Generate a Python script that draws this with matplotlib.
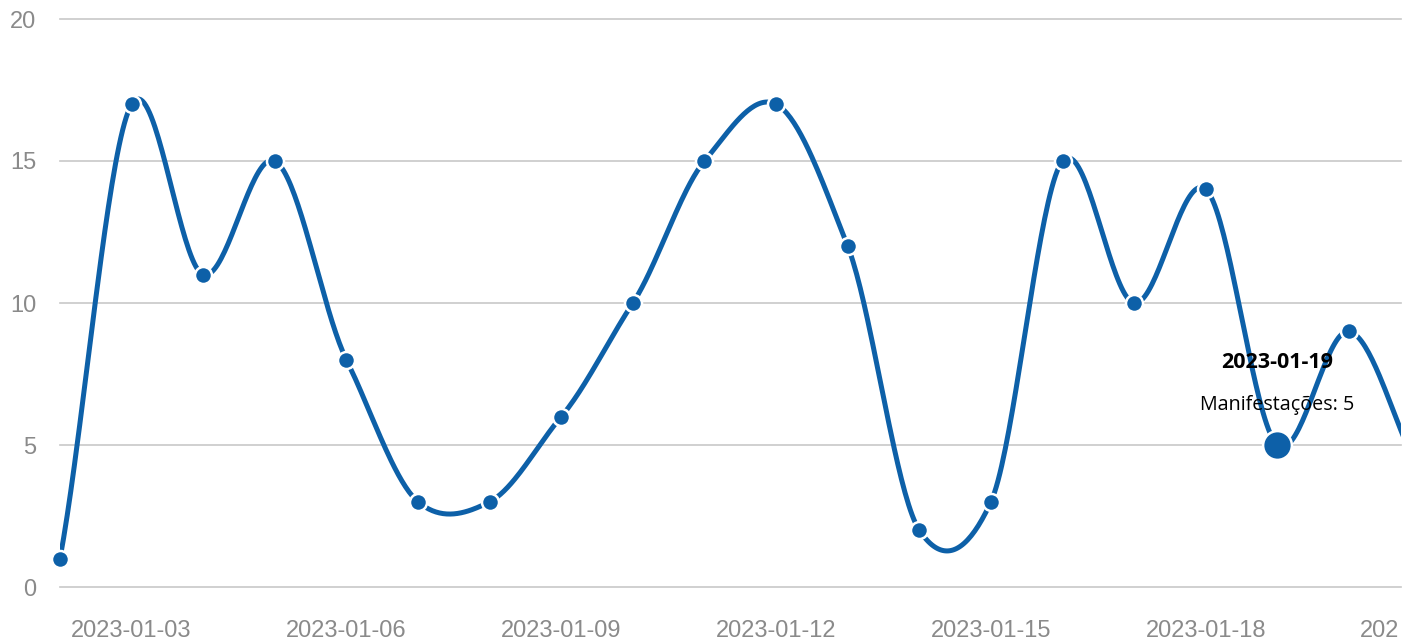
import numpy as np
import matplotlib.pyplot as plt
import matplotlib.dates as mdates
import matplotlib.transforms as mtransforms
import datetime as dt

# daily counts of "Manifestações"
dates = [dt.date(2023, 1, d) for d in range(2, 22)]
values = [1, 17, 11, 15, 8, 3, 3, 6, 10, 15, 17, 12, 2, 3, 15, 10, 14, 5, 9, 4]

tick_dates = [dt.date(2023, 1, d) for d in range(3, 22, 3)]
hover_date = dt.date(2023, 1, 19)
hover_label = "Manifestações"

line_color = "#0d60a8"
grid_color = "#c8c8c8"
tick_color = "#8a8a8a"


def cardinal(x, y, k=0.85, n=40):
    # smooth curve through the points (cardinal spline)
    x = np.asarray(x, float)
    y = np.asarray(y, float)
    m = np.zeros_like(y)
    m[1:-1] = (y[2:] - y[:-2]) / (x[2:] - x[:-2])
    m[0] = (y[1] - y[0]) / (x[1] - x[0])
    m[-1] = (y[-1] - y[-2]) / (x[-1] - x[-2])
    m = m * k
    xs, ys = [], []
    for i in range(len(x) - 1):
        h = x[i + 1] - x[i]
        t = np.linspace(0, 1, n, endpoint=False)
        h00 = 2 * t**3 - 3 * t**2 + 1
        h10 = t**3 - 2 * t**2 + t
        h01 = -2 * t**3 + 3 * t**2
        h11 = t**3 - t**2
        xs.append(x[i] + t * h)
        ys.append(h00 * y[i] + h10 * h * m[i] + h01 * y[i + 1] + h11 * h * m[i + 1])
    xs.append([x[-1]])
    ys.append([y[-1]])
    return np.concatenate(xs), np.concatenate(ys)


xnum = mdates.date2num(dates)
sx, sy = cardinal(xnum, values)

fig = plt.figure(figsize=(14.16, 6.42), dpi=100)
ax = fig.add_axes([60 / 1416, 55 / 642, (1401 - 60) / 1416, (587 - 19) / 642])

x_right = xnum[0] + (1401 - 60) / 71.61

ax.plot(sx, sy, color=line_color, linewidth=3.6, solid_capstyle="round", zorder=3)

vis = xnum <= x_right
vx = xnum[vis]
vy = np.array(values)[vis]
ax.scatter(vx, vy, s=150, color=line_color, edgecolor="white", linewidth=1.8,
           zorder=4, clip_on=False)

hx = mdates.date2num(hover_date)
hy = values[dates.index(hover_date)]
ax.scatter([hx], [hy], s=430, color=line_color, edgecolor="white", linewidth=1.8,
           zorder=5, clip_on=False)
ax.text(hx, 7.9, hover_date.strftime("%Y-%m-%d"), ha="center", va="center",
        fontsize=15.5, fontweight="bold", family="Open Sans", color="black", zorder=6)
ax.text(hx, 6.4, f"{hover_label}: {hy}", ha="center", va="center",
        fontsize=14.2, family="Open Sans", color="black", zorder=6)

ax.set_yticks([0, 5, 10, 15, 20])
ax.grid(axis="y", color=grid_color, linewidth=1.2)
ax.set_axisbelow(True)

# ticks inside the view get real tick labels, the last one falls past the
# right edge of the plot area and gets cut there like in the original
inside = [d for d in tick_dates if mdates.date2num(d) <= x_right]
outside = [d for d in tick_dates if mdates.date2num(d) > x_right]
ax.set_xticks(mdates.date2num(inside))
ax.set_xticklabels([d.strftime("%Y-%m-%d") for d in inside])
ax.set_xlim(xnum[0], x_right)
ax.set_ylim(0, 20)

cut_box = mtransforms.Bbox.from_extents(0, 0, 1399, 642)
trans = mtransforms.blended_transform_factory(ax.transData, ax.transAxes)
for d in outside:
    t = ax.text(mdates.date2num(d), 0, d.strftime("%Y-%m-%d"),
                transform=trans + mtransforms.ScaledTranslation(0, -24 / 72, fig.dpi_scale_trans),
                ha="center", va="top", fontsize=17, family="Liberation Sans",
                color=tick_color)
    t.set_clip_on(True)
    t.set_clip_box(cut_box)

for s in ax.spines.values():
    s.set_visible(False)
ax.tick_params(axis="both", length=0, colors=tick_color, labelsize=17)
ax.tick_params(axis="y", pad=17)
ax.tick_params(axis="x", pad=24)
for lab in ax.get_xticklabels() + ax.get_yticklabels():
    lab.set_family("Liberation Sans")
for gl in ax.get_ygridlines():
    gl.set_clip_on(False)

plt.savefig("out.png", dpi=100)
